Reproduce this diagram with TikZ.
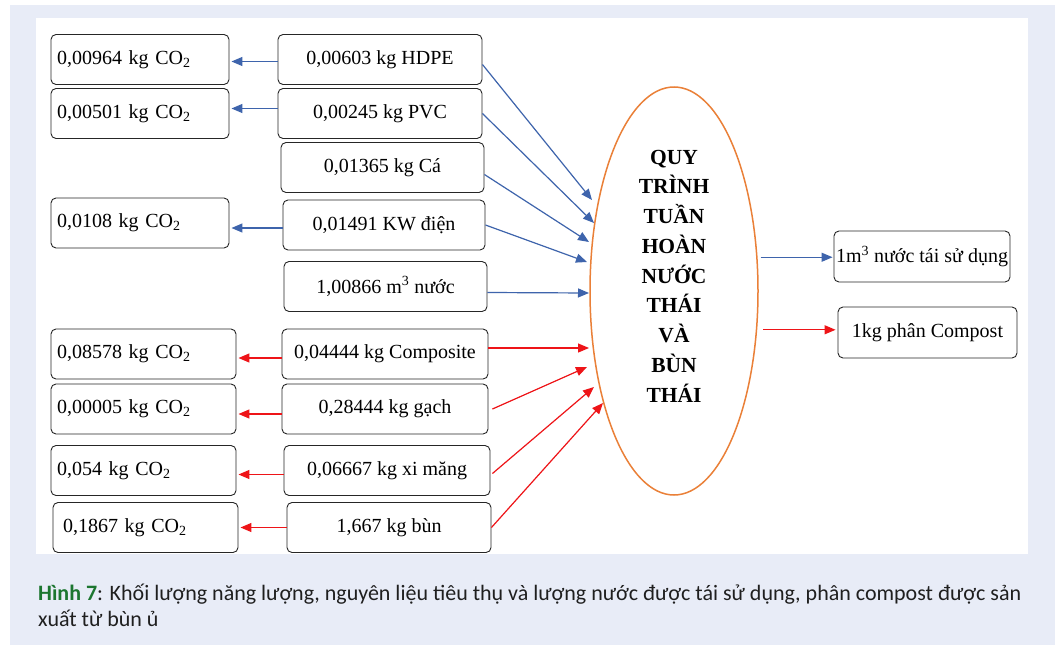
\documentclass[tikz,border=0pt]{standalone}
\usepackage{fontspec}
\setmainfont{Liberation Serif}
\newfontfamily\kuvafont{Carlito}
\usetikzlibrary{arrows.meta,shapes.geometric}
\definecolor{sininen}{RGB}{62,100,172}
\definecolor{punainen}{RGB}{238,20,24}
\definecolor{oranssi}{RGB}{234,128,56}
\definecolor{tausta}{RGB}{232,236,247}
\definecolor{vihrea}{RGB}{28,118,48}

\begin{document}
\begin{tikzpicture}[x=1pt,y=-1pt,
  laatikko/.style={draw=black!85, line width=0.9pt, rounded corners=5pt, inner sep=0pt,
    minimum height=50pt, font=\fontsize{20}{24}\selectfont},
  paasto/.style={laatikko, align=left},
  nuoli/.style={line width=1.2pt, -{Triangle[length=11pt,width=9pt]}},
  sin/.style={nuoli, draw=sininen},
  pun/.style={nuoli, draw=punainen}]
\fill[white] (0,0) rectangle (1055,645);
\fill[tausta] (10,5) rectangle (1055,645);
\fill[white] (36,18) rectangle (1028,554);
\useasboundingbox (0,0) rectangle (1055,645);

% syotteet
\node[laatikko, minimum width=204pt] (1) at (380,59.5) {0,00603 kg HDPE};
\node[laatikko, minimum width=204pt] (2) at (380,113.5) {0,00245 kg PVC};
\node[laatikko, minimum width=203pt] (3) at (382.5,167.5) {0,01365 kg Cá};
\node[laatikko, minimum width=202pt] (4) at (384,225) {0,01491 KW điện};
\node[laatikko, minimum width=203pt] (5) at (385.5,286.5) {1,00866 m\textsuperscript{3} nước};
\node[laatikko, minimum width=206pt] (6) at (385,354) {0,04444 kg Composite};
\node[laatikko, minimum width=206pt] (7) at (385,409) {0,28444 kg gạch};
\node[laatikko, minimum width=206pt] (8) at (387,470.5) {0,06667 kg xi măng};
\node[laatikko, minimum width=204pt] (9) at (389,527.5) {1,667 kg bùn};

% paastot
\node[paasto, minimum width=178pt, text width=166pt] (c1) at (140,59.5) {0,00964 kg CO\textsubscript{2}};
\node[paasto, minimum width=178pt, text width=166pt] (c2) at (140,113.5) {0,00501 kg CO\textsubscript{2}};
\node[paasto, minimum width=178pt, text width=166pt] (c4) at (140,223) {0,0108 kg CO\textsubscript{2}};
\node[paasto, minimum width=185pt, text width=173pt] (c6) at (143.5,354) {0,08578 kg CO\textsubscript{2}};
\node[paasto, minimum width=185pt, text width=173pt] (c7) at (143.5,409) {0,00005 kg CO\textsubscript{2}};
\node[paasto, minimum width=185pt, text width=173pt] (c8) at (143.5,470.5) {0,054 kg CO\textsubscript{2}};
\node[paasto, minimum width=185pt, text width=165pt] (c9) at (145.5,527.5) {0,1867 kg CO\textsubscript{2}};

% prosessi
\node[draw=oranssi, line width=1.5pt, ellipse, minimum width=168pt, minimum height=408pt,
  inner sep=0pt, align=center, font=\fontsize{21.5}{29.75}\selectfont\bfseries] (q) at (674,291)
  {QUY\\TRÌNH\\TUẦN\\HOÀN\\NƯỚC\\THÁI\\VÀ\\BÙN\\THÁI\\\mbox{}};

% tuotteet
\node[laatikko, minimum width=176pt, minimum height=51pt] (r1) at (922,256.5) {1m\textsuperscript{3} nước tái sử dụng};
\node[laatikko, minimum width=179pt, minimum height=51pt] (r2) at (927.5,332.5) {1kg phân Compost};

\coordinate (k1) at (592,200);
\coordinate (k2) at (594,223);
\coordinate (k3) at (589,242);
\coordinate (k4) at (587,262);
\coordinate (k5) at (589,293);
\coordinate (k6) at (589,348);
\coordinate (k7) at (587,367);
\coordinate (k8) at (594,387);
\coordinate (k9) at (603,403);

\path[draw,sin] ([yshift=-5pt]1.east) -- (k1);
\path[draw,sin] (2.east) -- (k2);
\path[draw,sin] ([yshift=-7pt]3.east) -- (k3);
\path[draw,sin] (4.east) -- (k4);
\path[draw,sin] ([yshift=-6pt]5.east) -- (k5);
\path[draw,pun] ([yshift=6pt]6.east) -- (k6);
\path[draw,pun] ([xshift=4pt]7.east) -- (k7);
\path[draw,pun] ([xshift=2pt,yshift=-3pt]8.east) -- (k8);
\path[draw,pun] (9.east) -- (k9);

\path[draw,sin,shorten >=2pt] ([yshift=-2pt]1.west) -- ([yshift=-2pt]1.west -| c1.east);
\path[draw,sin,shorten >=2pt] ([yshift=5pt]2.west) -- ([yshift=5pt]2.west -| c2.east);
\path[draw,sin,shorten >=2pt] ([yshift=-3pt]4.west) -- ([yshift=-3pt]4.west -| c4.east);
\path[draw,pun,shorten >=2pt] ([yshift=-4pt]6.west) -- ([yshift=-4pt]6.west -| c6.east);
\path[draw,pun,shorten >=2pt] ([yshift=-5pt]7.west) -- ([yshift=-5pt]7.west -| c7.east);
\path[draw,pun,shorten >=2pt] ([yshift=-4pt]8.west) -- ([yshift=-4pt]8.west -| c8.east);
\path[draw,pun,shorten >=2pt] (9.west) -- (9.west -| c9.east);

\path[draw,sin,shorten >=4pt] ([xshift=3pt]q.22) -- ([xshift=3pt]q.22 -| r1.west);
\path[draw,pun,shorten >=8pt] ([xshift=6pt]q.-25) -- ([xshift=6pt]q.-25 -| r2.west);

% kuvateksti, ankkuri on viimeisen rivin pohjaviivalla
\node[anchor=base west, align=left, inner sep=0pt, text=black!88,
  font=\kuvafont\fontsize{22}{26}\selectfont] (kuva) at (38,626)
  {\textcolor{vihrea}{\textbf{Hình 7}}: Khối lượng năng lượng, nguyên liệu tiêu thụ và lượng nước được tái sử dụng, phân compost được sản\\
  xuất từ bùn ủ};
\end{tikzpicture}
\end{document}
